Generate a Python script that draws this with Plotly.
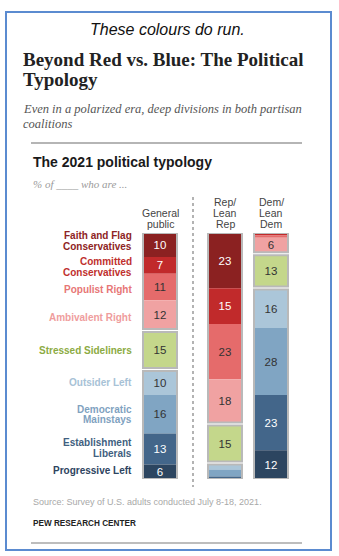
import plotly.graph_objects as go

# ---------------- data ----------------
typologies = ["Faith and Flag Conservatives", "Committed Conservatives", "Populist Right",
              "Ambivalent Right", "Stressed Sideliners", "Outsider Left",
              "Democratic Mainstays", "Establishment Liberals", "Progressive Left"]
label_lines = [["Faith and Flag", "Conservatives"], ["Committed", "Conservatives"],
               ["Populist Right"], ["Ambivalent Right"], ["Stressed Sideliners"],
               ["Outsider Left"], ["Democratic", "Mainstays"], ["Establishment", "Liberals"],
               ["Progressive Left"]]
group_of = [0, 0, 0, 0, 1, 2, 2, 2, 2]   # Rep-leaning / Stressed / Dem-leaning

columns = ["General public", "Rep/Lean Rep", "Dem/Lean Dem"]
column_header_lines = [["General", "public"], ["Rep/", "Lean", "Rep"], ["Dem/", "Lean", "Dem"]]

general_public = [10, 7, 11, 12, 15, 10, 16, 13, 6]
rep_lean_rep = [23, 15, 23, 18, 15, 2, 3, 1, 0]
dem_lean_dem = [0, 1, 1, 6, 13, 16, 28, 23, 12]
column_values = [general_public, rep_lean_rep, dem_lean_dem]

# ---------------- style ----------------
W, H = 339, 556
bar_colors = ["#8b2121", "#c12a2b", "#e56b6b", "#f0a2a2", "#c4d78b",
              "#abc6d9", "#80a5c3", "#43668a", "#2c4560"]
label_colors = ["#8e2424", "#c0302e", "#e77676", "#ef9d9d", "#8cab43",
                "#a7c2d6", "#7fa2bf", "#3f5f80", "#2d4460"]
text_colors = ["white", "white", "#333333", "#333333", "#333333",
               "#333333", "#333333", "white", "white"]
label_nudge_px = [4, -1.5, -3, -2.5, 0, 1, 0, 1, 1]   # small vertical label nudges (px, + = up)
COL_X = [160, 225, 271]          # pixel centres of the columns
BAR_W = 34
GAP = 1.3                        # white gap between groups, in % units
SANS = "Liberation Sans, Arial, sans-serif"
SERIF = "Liberation Serif, Times New Roman, serif"


def px(x):
    return x / W


def py(y):
    return 1 - y / H


def column_layout(vals):
    starts, pos, prev = [], 0.0, None
    for v, g in zip(vals, group_of):
        if prev is not None and g != prev:
            pos += GAP
        starts.append(pos)
        pos += v
        prev = g
    return starts


col_starts = [column_layout(v) for v in column_values]
total = max(s[-1] + v[-1] for s, v in zip(col_starts, column_values))

fig = go.Figure()

# segments
for i, name in enumerate(typologies):
    vals = [col[i] for col in column_values]
    bases = [s[i] for s in col_starts]
    fig.add_trace(go.Bar(
        x=COL_X, y=vals, base=bases, width=BAR_W, name=name,
        marker=dict(color=bar_colors[i], line=dict(width=0)),
        text=[str(v) if v >= 5 else "" for v in vals],
        textposition="inside", insidetextanchor="middle", textangle=0,
        constraintext="none",
        textfont=dict(family=SANS, size=11.5, color=text_colors[i]),
        hoverinfo="skip", showlegend=False,
    ))

# group outlines
for g in sorted(set(group_of)):
    idx = [i for i, gg in enumerate(group_of) if gg == g]
    lens = [sum(col[i] for i in idx) for col in column_values]
    bases = [s[idx[0]] for s in col_starts]
    fig.add_trace(go.Bar(
        x=COL_X, y=lens, base=bases, width=BAR_W,
        marker=dict(color="rgba(0,0,0,0)", line=dict(color="#b9b9b9", width=2)),
        cliponaxis=False, hoverinfo="skip", showlegend=False,
    ))

ann = []


def add_text(x, y, text, size, color, family=SANS, xanchor="left", xref="paper",
             yref="paper", yshift=0):
    ann.append(dict(x=x, y=y, xref=xref, yref=yref, text=text, showarrow=False,
                    xanchor=xanchor, yanchor="middle", yshift=yshift,
                    font=dict(family=family, size=size, color=color)))


# header texts
add_text(px(167), py(29), "<i>These colours do run.</i>", 16, "#111111", SANS, "center")
add_text(px(21), py(59), "<b>Beyond Red vs. Blue: The Political</b>", 19, "#222222", SERIF)
add_text(px(21), py(79), "<b>Typology</b>", 19, "#222222", SERIF)
add_text(px(21), py(108.5), "<i>Even in a polarized era, deep divisions in both partisan</i>",
         12.5, "#555555", SERIF)
add_text(px(21), py(124), "<i>coalitions</i>", 12.5, "#555555", SERIF)
add_text(px(31), py(162), "<b>The 2021 political typology</b>", 14, "#1a1a1a", SANS)
add_text(px(31), py(183.5), "<i>% of ____ who are ...</i>", 11, "#9a9a9a", SERIF)

# column headers (bottom line aligned at y=224)
for cx, lines in zip(COL_X, column_header_lines):
    n = len(lines)
    for k, line in enumerate(lines):
        add_text(px(cx), py(224 - 11.2 * (n - 1 - k)), line, 10.5, "#444444", SANS, "center")

# row labels, placed at the middle of the general public segments
gp_starts = col_starts[0]
for i, lines in enumerate(label_lines):
    mid = gp_starts[i] + general_public[i] / 2
    n = len(lines)
    for k, line in enumerate(lines):
        shift = (n - 1) / 2 * 10.4 - k * 10.4 + label_nudge_px[i]
        add_text(px(134), mid, "<b>" + line + "</b>", 10, label_colors[i], SANS, "right",
                 yref="y", yshift=shift)

# footer
add_text(px(31), py(501.5), "Source: Survey of U.S. adults conducted July 8-18, 2021.",
         9, "#a8a8a8", SANS)
add_text(px(31), py(523), "<b>PEW RESEARCH CENTER</b>", 8.2, "#222222", SANS)

shapes = [
    dict(type="rect", xref="paper", yref="paper", x0=px(6), x1=px(331), y0=py(12), y1=py(550),
         line=dict(color="#5b8bd0", width=2), fillcolor="rgba(0,0,0,0)"),
    dict(type="line", xref="paper", yref="paper", x0=px(31), x1=px(302), y0=py(143), y1=py(143),
         line=dict(color="#b5b5b5", width=2)),
    dict(type="line", xref="paper", yref="paper", x0=px(31), x1=px(302), y0=py(543), y1=py(543),
         line=dict(color="#bdbdbd", width=2)),
    dict(type="line", xref="paper", yref="paper", x0=px(193), x1=px(193), y0=py(197), y1=py(487),
         line=dict(color="#9a9a9a", width=1.5, dash="dot")),
]

TOP_PX, BOT_PX = 233, 479
fig.update_layout(
    width=W, height=H, margin=dict(l=0, r=0, t=0, b=0, pad=0),
    paper_bgcolor="white", plot_bgcolor="white",
    barmode="overlay", showlegend=False,
    xaxis=dict(range=[0, W], domain=[0, 1], visible=False, fixedrange=True),
    yaxis=dict(range=[total, 0], domain=[py(BOT_PX), py(TOP_PX)], visible=False,
               fixedrange=True),
    annotations=ann, shapes=shapes,
    uniformtext=dict(mode=False),
)

fig.write_html("out.html")
